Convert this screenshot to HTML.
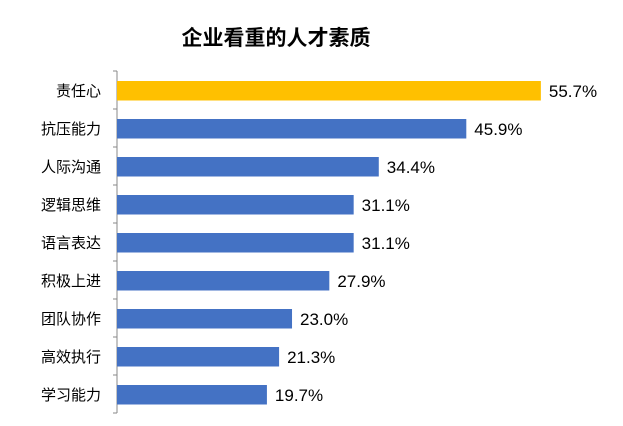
<!DOCTYPE html>
<html><head><meta charset="utf-8"><style>
body{margin:0;background:#fff;}
svg{display:block;font-family:"Liberation Sans","Noto Sans CJK SC",sans-serif;}
</style></head><body>
<svg id="chart" width="623" height="426" viewBox="0 0 623 426">
<text x="276" y="45" text-anchor="middle" font-size="21" font-weight="bold" fill="#000">企业看重的人才素质</text>
<g id="plot"></g>
</svg>
<script>
const categories=["责任心","抗压能力","人际沟通","逻辑思维","语言表达","积极上进","团队协作","高效执行","学习能力"];
const values=[55.7,45.9,34.4,31.1,31.1,27.9,23.0,21.3,19.7];
const labels=["55.7%","45.9%","34.4%","31.1%","31.1%","27.9%","23.0%","21.3%","19.7%"];
const x0=117, pxPer=7.61, plotTop=71, band=38;
const xs=v=>x0+v*pxPer;
const ys=i=>plotTop+i*band;
const g=document.getElementById('plot');
const NS='http://www.w3.org/2000/svg';
function mk(t,a){const e=document.createElementNS(NS,t);for(const k in a)e.setAttribute(k,a[k]);g.appendChild(e);return e;}
const ax=mk('line',{x1:x0,y1:plotTop,x2:x0,y2:ys(categories.length),stroke:'#888','stroke-width':1});


for(let i=0;i<=categories.length;i++){
  const t=mk('line',{x1:x0-4,y1:ys(i),x2:x0,y2:ys(i),stroke:'#888','stroke-width':1});
  
  
}
categories.forEach((c,i)=>{
  const b=mk('rect',{x:x0,y:ys(i)+10,width:xs(values[i])-x0,height:19.5,fill:i===0?'#FFC000':'#4472C4'});
  
  
  const l=mk('text',{x:101,y:ys(i)+25,'text-anchor':'end','font-size':15,fill:'#000'});
  l.textContent=c;
  
  
  const v=mk('text',{x:xs(values[i])+8,y:ys(i)+26,'font-size':17,fill:'#000'});
  v.textContent=labels[i];
  
  
});
</script>
</body></html>
